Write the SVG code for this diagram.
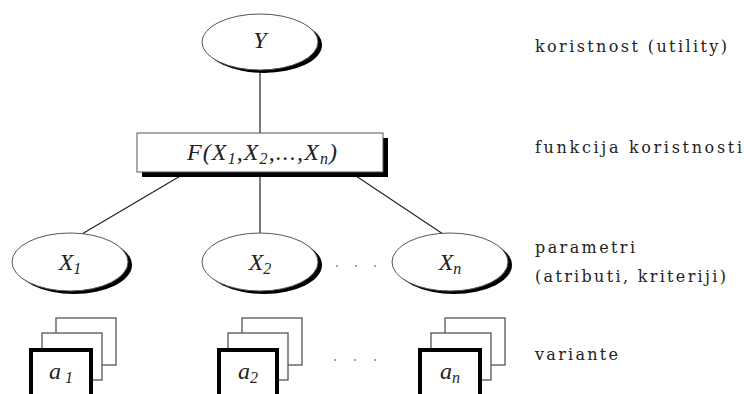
<svg xmlns="http://www.w3.org/2000/svg" width="744" height="394" viewBox="0 0 744 394">
<style>
.sh{fill:#000}
.el{fill:#fff;stroke:#555;stroke-width:1}
.con line{stroke:#222;stroke-width:1.2}
.lbl{font-family:"Liberation Serif","Times New Roman",serif;font-style:italic;font-size:24px;fill:#222;text-anchor:middle}
.sub{font-size:16px}
.side{font-family:"DejaVu Serif",serif;font-size:16px;fill:#222}
.back{fill:#fff;stroke:#555;stroke-width:1.3}
.front{fill:#fff;stroke:#000;stroke-width:4}
.dot{fill:#888}
</style>
<rect width="744" height="394" fill="#fff"/>
<g id="connectors" class="con">
<line x1="260" y1="70" x2="260" y2="133"/>
<line x1="187" y1="172" x2="82" y2="234"/>
<line x1="260" y1="172" x2="260" y2="234"/>
<line x1="350" y1="172" x2="443" y2="234"/>
</g>
<g id="nodeY">
<ellipse class="sh" cx="264" cy="45" rx="58" ry="28"/>
<ellipse class="el" cx="260" cy="42" rx="58" ry="28"/>
<text class="lbl" x="260" y="48">Y</text>
</g>
<g id="nodeF">
<rect class="sh" x="142" y="138" width="246" height="39"/>
<rect class="el" x="137" y="133" width="246" height="39"/>
<text class="lbl" x="262" y="160" textLength="150">F(X<tspan class="sub" dy="4">1</tspan><tspan dy="-4">,X</tspan><tspan class="sub" dy="4">2</tspan><tspan dy="-4">,...,X</tspan><tspan class="sub" dy="4">n</tspan><tspan dy="-4">)</tspan></text>
</g>
<g id="nodeX1">
<ellipse class="sh" cx="74" cy="265" rx="58" ry="29"/>
<ellipse class="el" cx="70" cy="262" rx="58" ry="29"/>
<text class="lbl" x="70" y="270">X<tspan class="sub" dy="4">1</tspan></text>
</g>
<g id="nodeX2">
<ellipse class="sh" cx="264" cy="265" rx="58" ry="29"/>
<ellipse class="el" cx="260" cy="262" rx="58" ry="29"/>
<text class="lbl" x="260" y="270">X<tspan class="sub" dy="4">2</tspan></text>
</g>
<g id="nodeXn">
<ellipse class="sh" cx="454" cy="265" rx="58" ry="29"/>
<ellipse class="el" cx="450" cy="262" rx="58" ry="29"/>
<text class="lbl" x="450" y="270">X<tspan class="sub" dy="4">n</tspan></text>
</g>
<g id="dotsX">
<circle class="dot" cx="337" cy="266" r="1"/>
<circle class="dot" cx="356" cy="266" r="1"/>
<circle class="dot" cx="375" cy="266" r="1"/>
</g>
<g id="nodeA1">
<rect class="back" x="56" y="318" width="60" height="47"/>
<rect class="back" x="42" y="333" width="60" height="47"/>
<rect class="front" x="31" y="350" width="60" height="50"/>
<text class="lbl" x="61" y="379">a<tspan class="sub" dy="4"> 1</tspan></text>
</g>
<g id="nodeA2">
<rect class="back" x="242" y="318" width="60" height="47"/>
<rect class="back" x="228" y="333" width="60" height="47"/>
<rect class="front" x="219" y="350" width="58" height="50"/>
<text class="lbl" x="248" y="379">a<tspan class="sub" dy="4">2</tspan></text>
</g>
<g id="nodeAn">
<rect class="back" x="445" y="318" width="60" height="47"/>
<rect class="back" x="431" y="333" width="60" height="47"/>
<rect class="front" x="420" y="350" width="60" height="50"/>
<text class="lbl" x="450" y="379">a<tspan class="sub" dy="4">n</tspan></text>
</g>
<g id="dotsA">
<circle class="dot" cx="335" cy="360" r="1"/>
<circle class="dot" cx="355" cy="360" r="1"/>
<circle class="dot" cx="375" cy="360" r="1"/>
</g>
<g id="labels">
<text class="side" x="535" y="52" textLength="192">koristnost (utility)</text>
<text class="side" x="535" y="153" textLength="207">funkcija koristnosti</text>
<text class="side" x="535" y="253" textLength="100">parametri</text>
<text class="side" x="535" y="282" textLength="191">(atributi, kriteriji)</text>
<text class="side" x="535" y="360" textLength="83">variante</text>
</g>
</svg>
